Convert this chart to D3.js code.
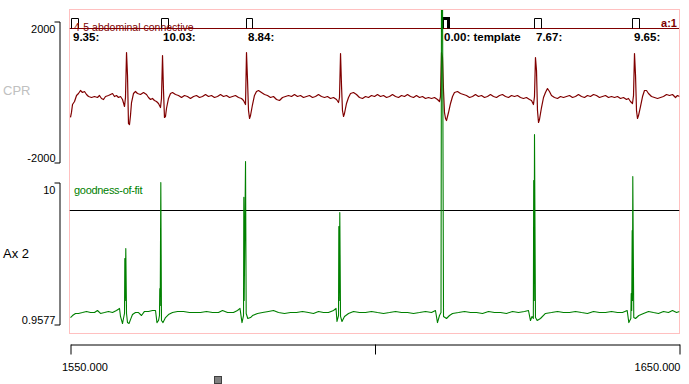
<!DOCTYPE html>
<html>
<head>
<meta charset="UTF-8">
<script src="https://d3js.org/d3.v7.min.js"></script>
<style>
    body { margin: 0; background: #fff; }
    svg { display: block; font-family: "Liberation Sans", Arial, sans-serif; }
</style>
</head>
<body>
<svg width="689" height="384"></svg>
<script>
// time window shown (s)
const viewRange = [1550, 1650];
const timeTicks = [1550, 1600, 1650];
const timeTickLabels = ["1550.000", "", "1650.000"];

// channel 1: CPR, times are seconds after 1550
const cprRange = [-2000, 2000];
const cprTickLabels = ["-2000", "2000"];
const cprTime = [
    0.00, 0.16, 0.33, 0.66, 0.99, 1.31, 1.64, 1.97, 2.30, 2.63,
    2.96, 3.45, 3.94, 4.43, 4.76, 5.09, 5.42, 5.75, 6.24, 6.57,
    6.90, 7.22, 7.55, 7.88, 8.21, 8.54, 8.87, 9.03, 9.20, 9.36,
    9.52, 9.69, 9.85, 10.02, 10.34, 10.67, 11.00, 11.49, 11.99, 12.48,
    12.81, 13.14, 13.46, 13.79, 14.12, 14.45, 14.78, 14.94, 15.11, 15.27,
    15.43, 15.60, 15.76, 16.09, 16.42, 16.75, 17.24, 17.73, 18.23, 18.72,
    19.21, 19.70, 20.20, 20.69, 21.18, 21.67, 22.17, 22.66, 23.15, 23.64,
    24.14, 24.63, 25.12, 25.62, 26.11, 26.60, 27.09, 27.59, 28.08, 28.41,
    28.74, 28.90, 29.07, 29.23, 29.40, 29.56, 29.89, 30.21, 30.54, 30.87,
    31.36, 31.86, 32.35, 32.84, 33.33, 33.83, 34.32, 34.81, 35.30, 35.80,
    36.29, 36.78, 37.27, 37.77, 38.26, 38.75, 39.24, 39.74, 40.23, 40.72,
    41.21, 41.71, 42.20, 42.69, 43.19, 43.68, 44.01, 44.17, 44.34, 44.50,
    44.66, 44.83, 44.99, 45.32, 45.65, 45.98, 46.47, 46.96, 47.45, 47.95,
    48.44, 48.93, 49.42, 49.92, 50.41, 50.90, 51.40, 51.89, 52.38, 52.87,
    53.37, 53.86, 54.35, 54.84, 55.34, 55.83, 56.32, 56.81, 57.31, 57.80,
    58.29, 58.78, 59.28, 59.77, 60.26, 60.59, 60.75, 60.92, 61.08, 61.25,
    61.41, 61.58, 61.74, 62.07, 62.40, 62.73, 63.05, 63.55, 64.04, 64.53,
    65.02, 65.52, 66.01, 66.50, 66.99, 67.49, 67.98, 68.47, 68.96, 69.46,
    69.95, 70.44, 70.93, 71.43, 71.92, 72.41, 72.90, 73.40, 73.89, 74.38,
    74.87, 75.37, 75.70, 76.02, 76.19, 76.35, 76.52, 76.68, 76.85, 77.01,
    77.34, 77.67, 77.99, 78.32, 78.65, 78.98, 79.47, 79.97, 80.46, 80.95,
    81.44, 81.94, 82.43, 82.92, 83.41, 83.91, 84.40, 84.89, 85.38, 85.88,
    86.37, 86.86, 87.35, 87.85, 88.34, 88.83, 89.33, 89.82, 90.31, 90.80,
    91.30, 91.62, 91.95, 92.28, 92.45, 92.61, 92.78, 92.94, 93.10, 93.27,
    93.60, 93.93, 94.25, 94.58, 94.91, 95.40, 95.90, 96.39, 96.88, 97.37,
    97.87, 98.36, 98.85, 99.34, 99.67, 100.00
];
const cprValue = [
    -723, -580, -355, -270, -99, -43, 43, -14, 14, -71,
    -128, -156, -128, -156, -99, -184, -213, -128, -99, -71,
    -43, -128, -99, -156, -128, -213, -411, -156, 1120, 468,
    -894, -922, -667, -298, -43, 14, -43, -71, -14, -71,
    -156, -213, -184, -241, -270, -326, -440, -184, 1035, 43,
    -723, -695, -468, -184, -43, -14, -71, -99, -156, -99,
    -128, -184, -128, -99, -156, -128, -71, -128, -99, -156,
    -128, -71, -128, -99, -156, -128, -99, -156, -184, -241,
    -355, 1120, 326, -525, -752, -667, -355, -99, 14, 43,
    -14, -71, -99, -156, -128, -213, -241, -156, -128, -99,
    -128, -71, -128, -99, -156, -128, -99, -156, -128, -71,
    -128, -156, -128, -184, -156, -213, -298, -156, 1090, 184,
    -525, -695, -610, -326, -156, -43, -14, -71, -156, -184,
    -128, -156, -99, -128, -71, -128, -99, -156, -128, -71,
    -128, -156, -99, -128, -71, -128, -156, -99, -156, -128,
    -184, -156, -184, -156, -213, -270, -128, 1120, 979, 43,
    -582, -752, -809, -582, -326, -128, -14, 14, -43, -71,
    -99, -156, -128, -71, -128, -99, -156, -128, -71, -128,
    -156, -99, -71, -128, -156, -99, -128, -99, -156, -184,
    -156, -213, -241, -355, -128, 979, 610, -525, -865, -780,
    -440, -156, -14, 99, 14, -99, -156, -184, -128, -156,
    -128, -99, -156, -128, -71, -128, -156, -99, -128, -71,
    -99, -156, -128, -99, -156, -128, -156, -128, -184, -156,
    -213, -184, -270, -326, -99, 1090, 468, -525, -752, -667,
    -411, -128, 43, 43, -43, -128, -156, -184, -156, -128,
    -71, -99, -71, -156, -99, -128
];

// channel 2: goodness-of-fit, times are seconds after 1550
const gofRange = [0.9577, 10];
const gofTickLabels = ["0.9577", "10"];
const gofLevel = 8.28;
const gofTime = [
    0.00, 0.33, 0.82, 1.31, 1.97, 2.63, 3.28, 3.94, 4.43, 4.93,
    5.58, 6.24, 6.90, 7.55, 8.05, 8.21, 8.54, 8.70, 8.87, 8.92,
    8.98, 9.08, 9.20, 9.36, 9.61, 9.85, 10.18, 10.67, 11.17, 11.66,
    12.15, 12.81, 13.46, 13.96, 14.20, 14.45, 14.61, 14.66, 14.73, 14.83,
    14.94, 15.19, 15.60, 16.09, 16.75, 17.57, 18.55, 19.54, 20.53, 21.35,
    22.33, 23.32, 24.30, 24.96, 25.78, 26.76, 27.42, 27.83, 28.16, 28.41,
    28.46, 28.52, 28.74, 28.85, 29.11, 29.56, 29.89, 30.71, 31.53, 32.51,
    33.33, 34.15, 35.14, 36.12, 37.11, 38.09, 39.08, 39.90, 40.72, 41.54,
    42.36, 43.19, 43.60, 43.76, 44.01, 44.06, 44.12, 44.22, 44.34, 44.58,
    44.99, 45.65, 46.47, 47.45, 48.44, 49.42, 50.41, 51.40, 52.38, 53.37,
    54.35, 55.34, 56.32, 57.31, 58.29, 59.28, 59.93, 60.26, 60.59, 60.84,
    60.92, 61.08, 61.25, 61.74, 62.23, 62.73, 63.71, 64.70, 65.68, 66.67,
    67.65, 68.64, 69.62, 70.61, 71.59, 72.58, 73.56, 74.55, 75.20, 75.53,
    75.78, 76.00, 76.06, 76.13, 76.19, 76.35, 76.63, 77.17, 77.99, 78.98,
    79.97, 80.95, 81.94, 82.92, 83.91, 84.89, 85.88, 86.86, 87.85, 88.83,
    89.82, 90.64, 91.41, 91.68, 92.01, 92.07, 92.15, 92.23, 92.28, 92.33,
    92.49, 92.78, 93.32, 94.09, 94.91, 95.73, 96.55, 97.37, 98.19, 98.85,
    99.51, 100.00
];
const gofValue = [
    1.40, 1.53, 1.66, 1.66, 1.72, 1.79, 1.72, 1.72, 1.85, 1.66,
    1.72, 1.79, 1.72, 1.85, 1.98, 1.47, 1.02, 1.34, 1.66, 5.16,
    2.49, 5.80, 1.66, 1.08, 1.02, 1.27, 1.59, 1.72, 1.72, 1.53,
    1.79, 1.79, 1.85, 1.85, 1.08, 1.21, 1.53, 3.25, 2.17, 10.00,
    1.21, 1.08, 1.40, 1.59, 1.72, 1.79, 1.79, 1.72, 1.72, 1.72,
    1.79, 1.72, 1.72, 1.85, 1.72, 1.72, 1.85, 1.98, 1.08, 1.53,
    9.05, 2.49, 11.34, 1.66, 1.34, 1.40, 1.53, 1.66, 1.72, 1.79,
    1.85, 1.72, 1.66, 1.72, 1.72, 1.79, 1.72, 1.66, 1.79, 1.72,
    1.72, 1.85, 1.98, 1.15, 1.53, 7.20, 2.49, 8.09, 1.47, 1.15,
    1.47, 1.66, 1.79, 1.72, 1.72, 1.79, 1.72, 1.66, 1.72, 1.79,
    1.72, 1.72, 1.66, 1.72, 1.79, 1.72, 1.85, 1.08, 1.53, 1.72,
    23.0, 23.0, 1.47, 1.34, 1.53, 1.66, 1.72, 1.79, 1.72, 1.72,
    1.66, 1.79, 1.72, 1.72, 1.66, 1.79, 1.72, 1.79, 1.85, 1.21,
    1.47, 1.34, 10.13, 2.49, 13.06, 1.40, 1.21, 1.34, 1.66, 1.72,
    1.79, 1.72, 1.72, 1.79, 1.72, 1.66, 1.79, 1.72, 1.72, 1.79,
    1.72, 1.72, 1.85, 1.08, 1.34, 2.93, 1.85, 6.94, 2.49, 10.38,
    1.40, 1.34, 1.53, 1.66, 1.79, 1.72, 1.66, 1.79, 1.72, 1.85,
    1.72, 1.79
];

// template-match events on channel 1
const eventTimes = [1550.16, 1564.94, 1578.74, 1610.92, 1626.19, 1642.28];
const eventLabels = ["9.35:", "10.03:", "8.84:", "0.00: template", "7.67:", "9.65:"];
const templateEvent = 3;
const pulseLength = 1.1;

var svg = d3.select("svg");
var darkRed = "#800000", green = "#008000", pink = "#ffc0c0";

var x = d3.scaleLinear().domain(viewRange).range([70.5, 679.5]);
var yCpr = d3.scaleLinear().domain(cprRange).range([162.5, 21.5]);
var yGof = d3.scaleLinear().domain(gofRange).range([324.5, 182.5]);

svg.append("defs").append("clipPath").attr("id", "plotclip")
    .append("rect").attr("x", 69.5).attr("y", 10).attr("width", 610).attr("height", 323);

// pink frame
svg.append("rect")
    .attr("x", 69.5).attr("y", 9.5).attr("width", 610).attr("height", 324)
    .attr("fill", "none").attr("stroke", pink);

// y axes drawn as brackets
function bracket(scale, labels) {
    var g = svg.append("g")
        .attr("transform", "translate(59.5,0)")
        .call(d3.axisLeft(scale).tickValues(scale.domain()).tickSize(0).tickSizeOuter(5)
            .tickPadding(4).tickFormat(function(d, i) { return labels[i]; }));
    g.attr("font-family", null).attr("font-size", 11);
    g.selectAll(".tick text")
        .attr("dy", 0)
        .attr("y", function(d, i) { return i == 1 ? 11 : -1; });
    return g;
}
bracket(yCpr, cprTickLabels);
bracket(yGof, gofTickLabels);

// x axis
var xa = svg.append("g")
    .attr("transform", "translate(0,344.5)")
    .call(d3.axisBottom(x).tickValues(timeTicks).tickSize(10).tickSizeOuter(0)
        .tickFormat(function(d, i) { return timeTickLabels[i]; }));
xa.attr("font-family", null).attr("font-size", 11);
xa.selectAll(".tick text")
    .attr("dy", 0).attr("y", 26)
    .attr("text-anchor", function(d, i) { return i == 0 ? "start" : "end"; })
    .attr("x", function(d, i) { return i == 0 ? -9 : 0.5; });

// channel names
svg.append("text").attr("x", 3).attr("y", 95).attr("font-size", 13)
    .attr("fill", "#c0c0c0").text("CPR");
svg.append("text").attr("x", 3).attr("y", 258).attr("font-size", 13)
    .attr("fill", "#000").text("Ax 2");

var plot = svg.append("g").attr("clip-path", "url(#plotclip)");

// goodness-of-fit level cursor
plot.append("line")
    .attr("x1", 69.5).attr("x2", 679.5)
    .attr("y1", Math.round(yGof(gofLevel)) + 0.5).attr("y2", Math.round(yGof(gofLevel)) + 0.5)
    .attr("stroke", "#000");

// event track
plot.append("line")
    .attr("x1", 69.5).attr("x2", 679).attr("y1", 28.5).attr("y2", 28.5)
    .attr("stroke", darkRed);

plot.selectAll(".pulse")
    .data(eventTimes)
    .enter()
    .append("path")
    .attr("class", "pulse")
    .attr("fill", "none")
    .attr("stroke", "#000")
    .attr("stroke-width", function(d, i) { return i == templateEvent ? 3 : 1; })
    .attr("d", function(d) {
        var x0 = Math.round(x(d)) + 0.5, x1 = Math.round(x(d + pulseLength)) + 0.5;
        return "M" + x0 + ",28.5V18.5H" + x1 + "V28.5";
    });

svg.selectAll(".elabel")
    .data(eventTimes)
    .enter()
    .append("text")
    .attr("class", "elabel")
    .attr("x", function(d) { return Math.round(x(d)) + 2; })
    .attr("y", 41)
    .attr("font-size", 11.5)
    .attr("font-weight", "bold")
    .attr("fill", "#000")
    .text(function(d, i) { return eventLabels[i]; });

svg.append("text").attr("x", 74).attr("y", 30.5).attr("font-size", 10.5)
    .attr("fill", darkRed).text("4-5 abdominal connective");
svg.append("text").attr("x", 677).attr("y", 27).attr("font-size", 11)
    .attr("font-weight", "bold").attr("text-anchor", "end").attr("fill", darkRed).text("a:1");
svg.append("text").attr("x", 74).attr("y", 194).attr("font-size", 11)
    .attr("letter-spacing", -0.3).attr("fill", green).text("goodness-of-fit");

// traces
var cprLine = d3.line()
    .x(function(d, i) { return x(viewRange[0] + cprTime[i]); })
    .y(function(d) { return yCpr(d); });
var gofLine = d3.line()
    .x(function(d, i) { return x(viewRange[0] + gofTime[i]); })
    .y(function(d) { return yGof(d); });

plot.append("path")
    .attr("d", cprLine(cprValue))
    .attr("fill", "none").attr("stroke", darkRed).attr("stroke-width", 1.2)
    .attr("stroke-linejoin", "round");

plot.append("path")
    .attr("d", gofLine(gofValue))
    .attr("fill", "none").attr("stroke", green).attr("stroke-width", 1.1)
    .attr("stroke-linejoin", "round");

// scroll thumb
svg.append("rect")
    .attr("x", 214.5).attr("y", 376.5).attr("width", 7).attr("height", 7)
    .attr("fill", "#808080").attr("stroke", "#404040");
</script>
</body>
</html>
